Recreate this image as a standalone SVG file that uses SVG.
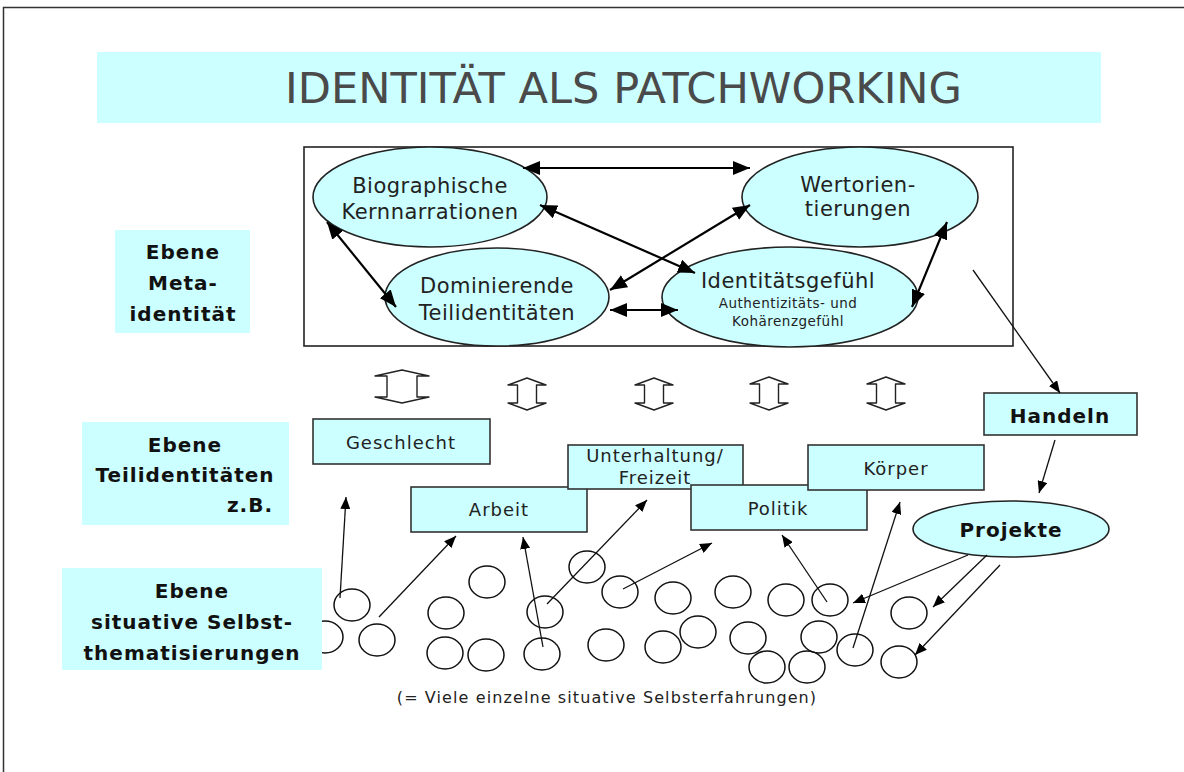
<svg xmlns="http://www.w3.org/2000/svg" width="1184" height="772" viewBox="0 0 1184 772">
<style>
  text { font-family: "DejaVu Sans", "Liberation Sans", sans-serif; fill: #222; }
  .cyan { fill: #ccffff; }
  .box { fill: #ccffff; stroke: #333; stroke-width: 1.6; }
  .ell { fill: #ccffff; stroke: #222; stroke-width: 1.6; }
  .lvl { font-weight: bold; font-size: 20px; letter-spacing: 1px; fill: #111; }
  .big { font-size: 21px; letter-spacing: 0.5px; }
  .lbl { font-size: 18px; letter-spacing: 1px; }
  .thick { stroke: #000; stroke-width: 2.2; fill: none; marker-start: url(#hb); marker-end: url(#hb); }
  .thin { stroke: #111; stroke-width: 1.3; fill: none; marker-end: url(#hs); }
  .circ { fill: none; stroke: #111; stroke-width: 1.5; }
  .dbl { fill: #fff; stroke: #222; stroke-width: 1.4; stroke-linejoin: round; }
</style>
<defs>
  <marker id="hb" markerUnits="userSpaceOnUse" markerWidth="18" markerHeight="14" refX="17" refY="7" orient="auto-start-reverse">
    <path d="M0,0 L17,7 L0,14 Z" fill="#000"/>
  </marker>
  <marker id="hs" markerUnits="userSpaceOnUse" markerWidth="13" markerHeight="10" refX="12" refY="5" orient="auto">
    <path d="M0,0 L12,5 L0,10 Z" fill="#000"/>
  </marker>
</defs>
<rect width="1184" height="772" fill="#fff"/>
<rect x="3.5" y="7.5" width="1300" height="900" fill="none" stroke="#333" stroke-width="1.5"/>

<g id="title">
  <rect x="97" y="52" width="1004" height="71" class="cyan"/>
  <text x="285" y="103" font-family="Liberation Sans, sans-serif" font-size="43" textLength="677" lengthAdjust="spacingAndGlyphs" style="fill:#4a4a4a">IDENTITÄT ALS PATCHWORKING</text>
</g>

<g id="level-meta">
  <rect x="115" y="230" width="135" height="103" class="cyan"/>
  <text class="lvl" x="183" y="259" text-anchor="middle">Ebene</text>
  <text class="lvl" x="183" y="290" text-anchor="middle">Meta-</text>
  <text class="lvl" x="183" y="321" text-anchor="middle">identität</text>
</g>
<g id="level-teil">
  <rect x="82" y="422" width="207" height="103" class="cyan"/>
  <text class="lvl" x="185" y="452" text-anchor="middle">Ebene</text>
  <text class="lvl" x="185" y="482" text-anchor="middle">Teilidentitäten</text>
  <text class="lvl" x="273" y="512" text-anchor="end">z.B.</text>
</g>

<g id="situative-circles">
  <ellipse class="circ" cx="325" cy="637" rx="18" ry="16"/>
  <ellipse class="circ" cx="352" cy="605" rx="18" ry="16"/>
  <ellipse class="circ" cx="377" cy="640" rx="18" ry="16"/>
  <ellipse class="circ" cx="446" cy="613" rx="18" ry="16"/>
  <ellipse class="circ" cx="487" cy="582" rx="18" ry="16"/>
  <ellipse class="circ" cx="445" cy="653" rx="18" ry="16"/>
  <ellipse class="circ" cx="486" cy="655" rx="18" ry="16"/>
  <ellipse class="circ" cx="542" cy="654" rx="18" ry="16"/>
  <ellipse class="circ" cx="545" cy="612" rx="18" ry="16"/>
  <ellipse class="circ" cx="587" cy="567" rx="18" ry="16"/>
  <ellipse class="circ" cx="620" cy="592" rx="18" ry="16"/>
  <ellipse class="circ" cx="606" cy="645" rx="18" ry="16"/>
  <ellipse class="circ" cx="673" cy="598" rx="18" ry="16"/>
  <ellipse class="circ" cx="663" cy="647" rx="18" ry="16"/>
  <ellipse class="circ" cx="698" cy="632" rx="18" ry="16"/>
  <ellipse class="circ" cx="733" cy="592" rx="18" ry="16"/>
  <ellipse class="circ" cx="786" cy="600" rx="18" ry="16"/>
  <ellipse class="circ" cx="830" cy="600" rx="18" ry="16"/>
  <ellipse class="circ" cx="748" cy="638" rx="18" ry="16"/>
  <ellipse class="circ" cx="767" cy="667" rx="18" ry="16"/>
  <ellipse class="circ" cx="807" cy="667" rx="18" ry="16"/>
  <ellipse class="circ" cx="819" cy="637" rx="18" ry="16"/>
  <ellipse class="circ" cx="855" cy="650" rx="18" ry="16"/>
  <ellipse class="circ" cx="909" cy="613" rx="18" ry="16"/>
  <ellipse class="circ" cx="899" cy="662" rx="18" ry="16"/>
</g>

<g id="level-situativ">
  <rect x="62" y="568" width="260" height="102" class="cyan"/>
  <text class="lvl" x="192" y="598" text-anchor="middle">Ebene</text>
  <text class="lvl" x="192" y="629" text-anchor="middle">situative Selbst-</text>
  <text class="lvl" x="192" y="660" text-anchor="middle">thematisierungen</text>
</g>

<g id="meta-frame">
  <rect x="304" y="147" width="709" height="199" fill="none" stroke="#222" stroke-width="1.6"/>
</g>

<g id="node-biographische">
  <ellipse class="ell" cx="430" cy="197" rx="117" ry="50"/>
  <text class="big" x="430" y="193" text-anchor="middle">Biographische</text>
  <text class="big" x="430" y="219" text-anchor="middle">Kernnarrationen</text>
</g>
<g id="node-wertorientierungen">
  <ellipse class="ell" cx="860" cy="197" rx="118" ry="50"/>
  <text class="big" x="858" y="192" text-anchor="middle">Wertorien-</text>
  <text class="big" x="858" y="216" text-anchor="middle">tierungen</text>
</g>
<g id="node-dominierende">
  <ellipse class="ell" cx="497" cy="297" rx="112" ry="49"/>
  <text class="big" x="497" y="293" text-anchor="middle">Dominierende</text>
  <text class="big" x="497" y="320" text-anchor="middle">Teilidentitäten</text>
</g>
<g id="node-identitaetsgefuehl">
  <ellipse class="ell" cx="790" cy="297" rx="128" ry="50"/>
  <text class="big" x="788" y="288" text-anchor="middle">Identitätsgefühl</text>
  <text x="788" y="308" text-anchor="middle" font-size="13.5" letter-spacing="0.5">Authentizitäts- und</text>
  <text x="788" y="326" text-anchor="middle" font-size="13.5" letter-spacing="0.5">Kohärenzgefühl</text>
</g>

<g id="level-arrows">
  <polygon class="dbl" points="402,370 429,376 417,376 417,397 429,397 402,403 375,397 387,397 387,376 375,376"/>
  <polygon class="dbl" points="527,378 546,385 536.5,385 536.5,403 546,403 527,410 508,403 517.5,403 517.5,385 508,385"/>
  <polygon class="dbl" points="654,378 673,385 663.5,385 663.5,403 673,403 654,410 635,403 644.5,403 644.5,385 635,385"/>
  <polygon class="dbl" points="769,377 788,384 778.5,384 778.5,403 788,403 769,410 750,403 759.5,403 759.5,384 750,384"/>
  <polygon class="dbl" points="886,377 905,384 895.5,384 895.5,403 905,403 886,410 867,403 876.5,403 876.5,384 867,384"/>
</g>

<g id="node-geschlecht">
  <rect class="box" x="313" y="419" width="177" height="45"/>
  <text class="lbl" x="401" y="449" text-anchor="middle">Geschlecht</text>
</g>
<g id="node-arbeit">
  <rect class="box" x="411" y="487" width="176" height="45"/>
  <text class="lbl" x="499" y="516" text-anchor="middle">Arbeit</text>
</g>
<g id="node-unterhaltung">
  <rect class="box" x="568" y="445" width="175" height="44"/>
  <text class="lbl" x="655" y="462" text-anchor="middle">Unterhaltung/</text>
  <text class="lbl" x="655" y="484" text-anchor="middle">Freizeit</text>
</g>
<g id="node-politik">
  <rect class="box" x="691" y="485" width="176" height="45"/>
  <text class="lbl" x="778" y="515" text-anchor="middle">Politik</text>
</g>
<g id="node-koerper">
  <rect class="box" x="808" y="445" width="176" height="45"/>
  <text class="lbl" x="896" y="475" text-anchor="middle">Körper</text>
</g>
<g id="node-handeln">
  <rect class="box" x="984" y="393" width="153" height="42"/>
  <text class="lvl" x="1060" y="423" text-anchor="middle">Handeln</text>
</g>
<g id="node-projekte">
  <ellipse class="ell" cx="1011" cy="529" rx="98" ry="28"/>
  <text class="lvl" x="1011" y="537" text-anchor="middle">Projekte</text>
</g>

<g id="connectors">
  <line class="thick" x1="523" y1="168" x2="750" y2="168"/>
  <line class="thick" x1="540" y1="205" x2="695" y2="273"/>
  <line class="thick" x1="610" y1="290" x2="750" y2="205"/>
  <line class="thick" x1="610" y1="310" x2="678" y2="310"/>
  <line class="thick" x1="327" y1="222" x2="396" y2="307"/>
  <line class="thick" x1="947" y1="222" x2="912" y2="307"/>

  <line class="thin" x1="973" y1="270" x2="1060" y2="393"/>
  <line class="thin" x1="1055" y1="440" x2="1039" y2="493"/>
  <line class="thin" x1="340" y1="598" x2="346" y2="497"/>
  <line class="thin" x1="379" y1="617" x2="456" y2="536"/>
  <line class="thin" x1="543" y1="647" x2="523" y2="537"/>
  <line class="thin" x1="547" y1="604" x2="647" y2="500"/>
  <line class="thin" x1="623" y1="589" x2="712" y2="543"/>
  <line class="thin" x1="827" y1="602" x2="782" y2="535"/>
  <line class="thin" x1="853" y1="648" x2="900" y2="502"/>
  <line class="thin" x1="968" y1="555" x2="853" y2="603"/>
  <line class="thin" x1="987" y1="555" x2="933" y2="607"/>
  <line class="thin" x1="1000" y1="565" x2="915" y2="655"/>
</g>

<g id="footnote">
  <text x="607" y="703" text-anchor="middle" font-size="16" letter-spacing="1.1">(= Viele einzelne situative Selbsterfahrungen)</text>
</g>
</svg>
